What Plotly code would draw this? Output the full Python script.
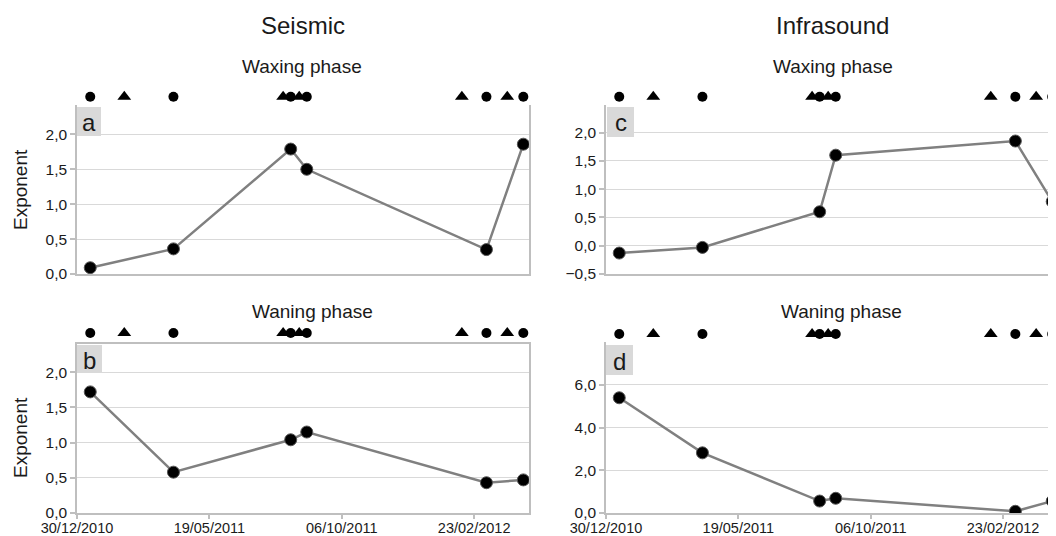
import plotly.graph_objects as go

# ---------------- data ----------------
dates = ["2011-01-13", "2011-04-11", "2011-08-13", "2011-08-30", "2012-03-07", "2012-04-15"]
seismic_waxing = [0.09, 0.36, 1.79, 1.50, 0.35, 1.86]
seismic_waning = [1.72, 0.58, 1.04, 1.15, 0.43, 0.47]
infra_waxing = [-0.13, -0.03, 0.60, 1.60, 1.85, 0.78]
infra_waning = [5.40, 2.82, 0.56, 0.69, 0.08, 0.56]

circle_events = ["2011-01-13", "2011-04-11", "2011-08-13", "2011-08-30", "2012-03-07", "2012-04-15"]
triangle_events = ["2011-02-18", "2011-08-05", "2011-08-22", "2012-02-10", "2012-03-29"]

tick_dates = ["2010-12-30", "2011-05-19", "2011-10-06", "2012-02-23"]
tick_labels = ["30/12/2010", "19/05/2011", "06/10/2011", "23/02/2012"]

panel_letters = ["a", "b", "c", "d"]
column_titles = ["Seismic", "Infrasound"]
phase_titles = ["Waxing phase", "Waning phase"]

# ---------------- layout helpers ----------------
# the page body adds an 8 px offset; figure covers page pixels 8..1056 x 8..536
OFF = 8
W, H = 1056 - OFF, 536 - OFF
def px(x):
    return (x - OFF) / W
def py(y):
    return 1 - (y - OFF) / H

FONT = "Liberation Sans, Arial, sans-serif"
TXT = "#1a1a1a"
GRID = "#d9d9d9"
AXL = "#bfbfbf"

XL = [77, 529]
XR = [606, 1056]
YT = [106.5, 274]
YB = [344, 513]

fig = go.Figure()

panels = [
    # name, xaxis, yaxis, xdom, ydom, values, yrange, dtick, xrange_end, bottom, left, event_row_y
    ("a", "x", "y", XL, YT, seismic_waxing, [0, 2.4], 0.5, "2012-04-21", False, True, 96.7),
    ("b", "x2", "y2", XL, YB, seismic_waning, [0, 2.4], 0.5, "2012-04-21", True, True, 333),
    ("c", "x3", "y3", XR, YT, infra_waxing, [-0.5, 2.46], 0.5, "2012-04-19", False, False, 96.7),
    ("d", "x4", "y4", XR, YB, infra_waning, [0, 7.92], 2, "2012-04-19", True, False, 334),
]

for i, (name, xa, ya, xd, yd, vals, yr, dt, xend, bottom, left, ery) in enumerate(panels):
    xkey = "xaxis" + ("" if xa == "x" else xa[1:])
    ykey = "yaxis" + ("" if ya == "y" else ya[1:])
    ev_ax_num = 5 + i
    ev_ykey = "yaxis%d" % ev_ax_num
    ev_ya = "y%d" % ev_ax_num

    fig.add_trace(go.Scatter(
        x=dates, y=vals, xaxis=xa, yaxis=ya, mode="lines+markers",
        line=dict(color="#808080", width=2.5),
        marker=dict(size=12, color="black", line=dict(color="#555555", width=1)),
        showlegend=False, hoverinfo="skip",
    ))
    # event markers row
    fig.add_trace(go.Scatter(
        x=circle_events, y=[0] * len(circle_events), xaxis=xa, yaxis=ev_ya, mode="markers",
        marker=dict(symbol="circle", size=10, color="black"),
        showlegend=False, hoverinfo="skip", cliponaxis=False,
    ))
    fig.add_trace(go.Scatter(
        x=triangle_events, y=[0] * len(triangle_events), xaxis=xa, yaxis=ev_ya, mode="markers",
        marker=dict(symbol="triangle-up", size=12, color="black"),
        showlegend=False, hoverinfo="skip", cliponaxis=False,
    ))

    fig.layout[xkey] = dict(
        domain=[px(xd[0]), px(xd[1])], anchor=ya, type="date", automargin=False,
        range=["2010-12-30", xend],
        tickvals=tick_dates, ticktext=tick_labels,
        showticklabels=bottom, ticks="outside" if bottom else "", ticklen=4,
        tickcolor=AXL, tickwidth=1.5, ticklabelstandoff=-3,
        showgrid=False, zeroline=False,
        showline=True, linecolor=AXL, linewidth=1.5, mirror=True,
        tickfont=dict(family=FONT, size=14.5, color=TXT),
    )
    fig.layout[ykey] = dict(
        domain=[py(yd[1]), py(yd[0])], anchor=xa, automargin=False,
        range=yr, dtick=dt, tick0=0, tickformat=".1f",
        showgrid=True, gridcolor=GRID, gridwidth=1.2, zeroline=False,
        showline=True, linecolor=AXL, linewidth=1.5, mirror=left,
        ticks="outside", ticklen=5, tickcolor=AXL, tickwidth=1.5,
        tickfont=dict(family=FONT, size=15.5, color=TXT),
    )
    c = py(ery)
    fig.layout[ev_ykey] = dict(
        domain=[c - 0.02, c + 0.02], anchor=xa, range=[-1, 1], visible=False, automargin=False,
    )

# panel letter boxes (pixel boxes)
boxes = {"a": (77, 101, 107, 136), "b": (77, 102, 345, 373),
         "c": (607, 634, 107, 137), "d": (606, 633, 345, 375)}
annotations = []
for letter in panel_letters:
    x0, x1, y0, y1 = boxes[letter]
    fig.add_shape(type="rect", xref="paper", yref="paper",
                  x0=px(x0), x1=px(x1), y0=py(y1), y1=py(y0),
                  fillcolor="#d9d9d9", line=dict(width=0), layer="above")
    annotations.append(dict(text=letter, xref="paper", yref="paper",
                            x=px((x0 + x1) / 2), y=py((y0 + y1) / 2 + 1),
                            xanchor="center", yanchor="middle", showarrow=False,
                            font=dict(family=FONT, size=24, color=TXT)))

# titles
annotations += [
    dict(text=column_titles[0], x=px(303), y=py(25)),
    dict(text=column_titles[1], x=px(832), y=py(25)),
]
for a in annotations[-2:]:
    a.update(xref="paper", yref="paper", xanchor="center", yanchor="middle",
             showarrow=False, font=dict(family=FONT, size=24, color=TXT))

sub = [
    dict(text=phase_titles[0], x=px(302), y=py(67)),
    dict(text=phase_titles[0], x=px(833), y=py(67)),
    dict(text=phase_titles[1], x=px(312), y=py(311)),
    dict(text=phase_titles[1], x=px(841), y=py(311)),
]
for a in sub:
    a.update(xref="paper", yref="paper", xanchor="center", yanchor="middle",
             showarrow=False, font=dict(family=FONT, size=19, color=TXT))
annotations += sub

for yc in (190, 438):
    annotations.append(dict(text="Exponent", x=px(20), y=py(yc), xref="paper", yref="paper",
                            xanchor="center", yanchor="middle", textangle=-90, showarrow=False,
                            font=dict(family=FONT, size=19, color=TXT)))

fig.update_layout(
    width=W, height=H, autosize=False,
    margin=dict(l=0, r=0, t=0, b=0, autoexpand=False),
    paper_bgcolor="white", plot_bgcolor="white",
    separators=", ",
    annotations=annotations,
    font=dict(family=FONT, color=TXT),
)

fig.write_html("out.html")
